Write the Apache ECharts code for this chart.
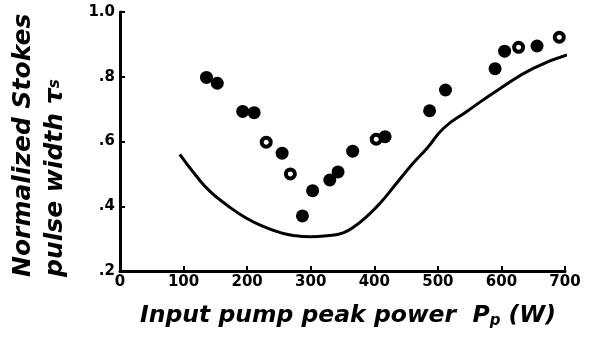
<!DOCTYPE html>
<html>
<head>
<meta charset="utf-8">
<script src="https://cdn.jsdelivr.net/npm/echarts@6/dist/echarts.min.js"></script>
<style>html,body{margin:0;padding:0;background:#fff;}#c{width:589px;height:350px;}</style>
</head>
<body>
<div id="c"></div>
<script>
// Measured (filled) data points: pump power (W), normalized pulse width
var filledX = [136, 153, 193, 211, 255, 287, 303, 330, 343, 366, 417, 487, 512, 590, 605, 656];
var filledY = [0.798, 0.780, 0.693, 0.689, 0.564, 0.370, 0.448, 0.481, 0.506, 0.570, 0.615, 0.695, 0.759, 0.825, 0.879, 0.895];
// Open-circle data points
var openX = [230, 268, 403, 627, 691];
var openY = [0.598, 0.500, 0.607, 0.891, 0.922];
// Theoretical curve
var curveX = [94, 121, 142, 168, 199, 231, 257, 275, 299, 325, 351, 372, 388, 409, 435, 461, 483, 509, 545, 598, 650, 703];
var curveY = [0.560, 0.491, 0.445, 0.404, 0.363, 0.333, 0.316, 0.309, 0.306, 0.309, 0.318, 0.342, 0.368, 0.409, 0.471, 0.533, 0.579, 0.641, 0.692, 0.764, 0.826, 0.867];
// Tick labels
var yTickValues = [0.2, 0.4, 0.6, 0.8, 1.0];
var yTickLabels = ['.2', '.4', '.6', '.8', '1.0'];

function pairs(xs, ys) { return xs.map(function (x, i) { return [x, ys[i]]; }); }

var titleFont = '"DejaVu Sans", sans-serif';
var chart = echarts.init(document.getElementById('c'), null, { renderer: 'canvas' });
chart.setOption({
  animation: false,
  backgroundColor: '#fff',
  grid: { left: 120, right: 24, top: 12, bottom: 79 },
  xAxis: {
    type: 'value', min: 0, max: 700, interval: 100,
    axisLine: { lineStyle: { color: '#000', width: 3 } },
    axisTick: { inside: true, length: 5, lineStyle: { color: '#000', width: 2 } },
    axisLabel: { color: '#000', fontSize: 15, fontWeight: 'bold', fontFamily: 'DejaVu Sans', margin: 4 },
    splitLine: { show: false }
  },
  yAxis: {
    type: 'value', min: 0.2, max: 1.0, interval: 0.2,
    axisLine: { show: true, lineStyle: { color: '#000', width: 3 } },
    axisTick: { show: true, inside: true, length: 5, lineStyle: { color: '#000', width: 2 } },
    axisLabel: {
      color: '#000', fontSize: 15, fontWeight: 'bold', fontFamily: 'DejaVu Sans', margin: 5,
      formatter: function (v) {
        for (var i = 0; i < yTickValues.length; i++) if (Math.abs(v - yTickValues[i]) < 1e-6) return yTickLabels[i];
        return '';
      }
    },
    splitLine: { show: false }
  },
  series: [
    {
      type: 'line', data: pairs(curveX, curveY), smooth: 0.5, showSymbol: false, symbol: 'none',
      lineStyle: { color: '#000', width: 3 }
    },
    {
      type: 'scatter', data: pairs(filledX, filledY), symbol: 'circle', symbolSize: 13,
      itemStyle: { color: '#000', opacity: 1 }
    },
    {
      type: 'scatter', data: pairs(openX, openY), symbol: 'circle', symbolSize: 9,
      itemStyle: { color: '#fff', borderColor: '#000', borderWidth: 4, opacity: 1 }
    }
  ],
  graphic: [
    {
      type: 'text', x: 140, y: 316,
      style: {
        text: 'Input pump peak power  {it|P}{sub|p} (W)',
        font: 'italic bold 23.5px ' + titleFont, fill: '#000',
        align: 'left', verticalAlign: 'middle',
        rich: {
          it: { font: 'italic bold 23.5px ' + titleFont, fill: '#000' },
          sub: { font: 'italic bold 15px ' + titleFont, fill: '#000', verticalAlign: 'bottom', padding: [10, 0, 0, 0] }
        }
      }
    },
    {
      type: 'text', x: 23, y: 277, rotation: Math.PI / 2,
      style: { text: 'Normalized Stokes', font: 'italic bold 25px ' + titleFont, fill: '#000', align: 'left', verticalAlign: 'middle' }
    },
    {
      type: 'text', x: 55, y: 277, rotation: Math.PI / 2,
      style: {
        text: 'pulse width τ{sub|s}', font: 'italic bold 25px ' + titleFont, fill: '#000', align: 'left', verticalAlign: 'middle',
        rich: { sub: { font: 'italic bold 15px ' + titleFont, fill: '#000' } }
      }
    }
  ]
});
</script>
</body>
</html>
